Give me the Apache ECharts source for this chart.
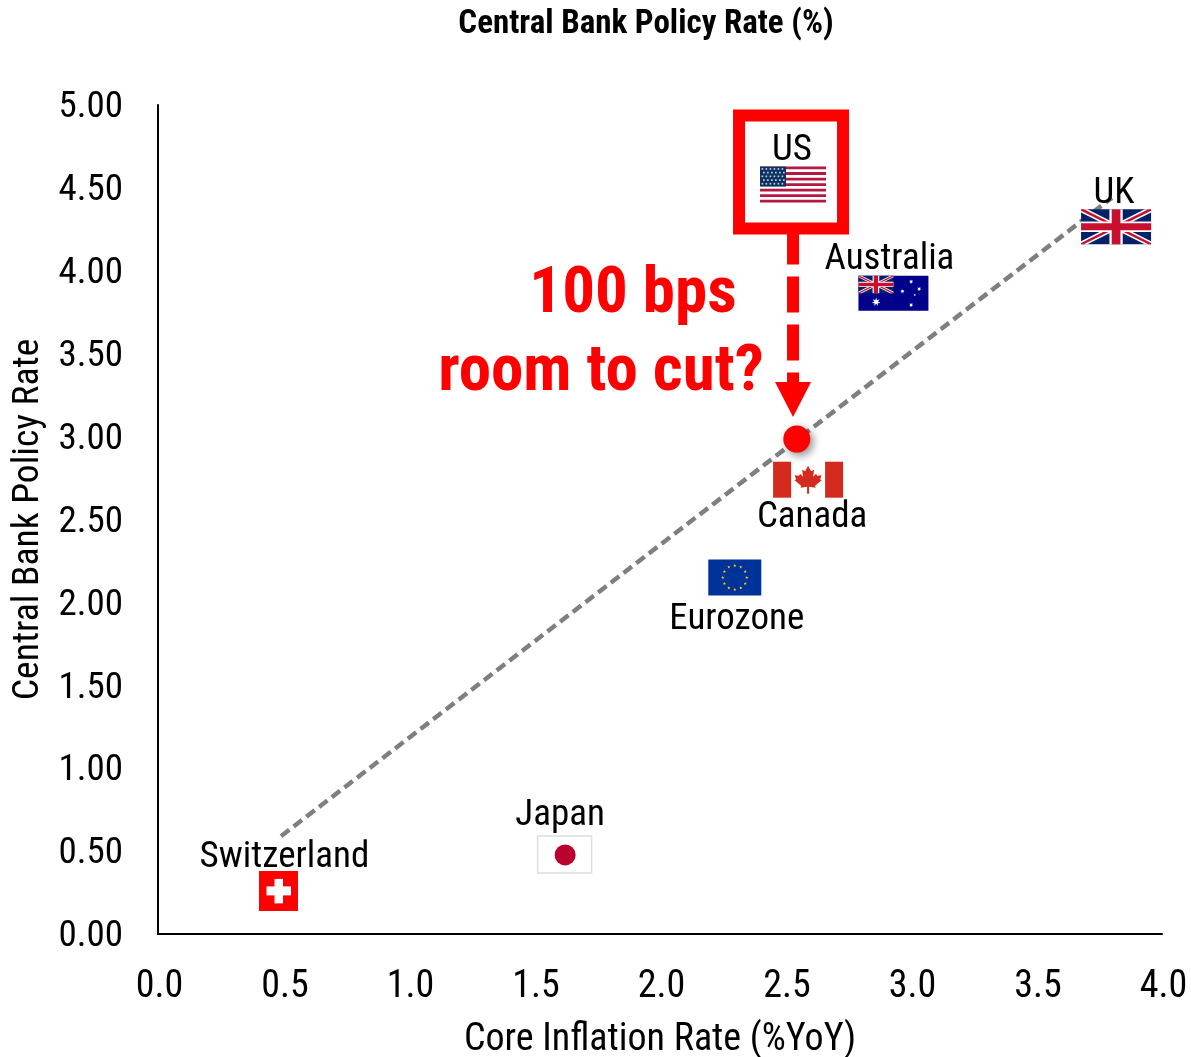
<!DOCTYPE html>
<html>
<head>
<meta charset="utf-8">
<style>
  html, body { margin: 0; padding: 0; background: #fff; }
  #chart { width: 1191px; height: 1057px; }
</style>
<script src="https://cdn.jsdelivr.net/npm/echarts@6/dist/echarts.min.js"></script>
</head>
<body>
<div id="chart"></div>
<script>
const countries = ['US', 'UK', 'Australia', 'Canada', 'Eurozone', 'Japan', 'Switzerland']
const coreInflation = [2.53, 3.817, 2.93, 2.59, 2.298, 1.62, 0.48]
const policyRate = [4.52, 4.265, 3.865, 2.74, 2.15, 0.48, 0.26]
const trendInflation = [0.49, 3.80]
const trendRate = [0.59, 4.44]
const impliedInflation = [2.545]
const impliedRate = [2.985]
const calloutLines = ['100 bps', 'room to cut?']

const FONT = '"Roboto Condensed", Roboto, sans-serif'

// label offset from the flag centre, in px
const labelOffset = {
  US: [-1, -34], UK: [-2, -33], Australia: [-4, -33], Canada: [4, 38],
  Eurozone: [2, 42], Japan: [-4.5, -39], Switzerland: [6, -33]
}

function rect(x, y, width, height, fill) {
  return { type: 'rect', shape: { x, y, width, height }, style: { fill } }
}

function poly(points, fill) {
  return { type: 'polygon', shape: { points }, style: { fill } }
}

function starPoints(cx, cy, r, n) {
  const pts = []
  for (let i = 0; i < n * 2; i++) {
    const a = -Math.PI / 2 + i * Math.PI / n
    const rr = i % 2 ? r * 0.42 : r
    pts.push([cx + rr * Math.cos(a), cy + rr * Math.sin(a)])
  }
  return pts
}

// union jack inside a w x h box whose top-left is x,y
function unionJack(x, y, w, h) {
  const blue = '#012169', red = '#C8102E'
  const band = (t, fill) => {
    const ty = t * h / w
    return [
      poly([[x, y], [x + t, y], [x + w, y + h - ty], [x + w, y + h], [x + w - t, y + h], [x, y + ty]], fill),
      poly([[x + w, y], [x + w, y + ty], [x + t, y + h], [x, y + h], [x, y + h - ty], [x + w - t, y]], fill)
    ]
  }
  const cw = w * 0.19, ch = h * 0.3, rw = w * 0.125, rh = h * 0.2
  return [
    rect(x, y, w, h, blue),
    ...band(w * 0.09, '#fff'),
    ...band(w * 0.04, red),
    rect(x + (w - cw) / 2, y, cw, h, '#fff'),
    rect(x, y + (h - ch) / 2, w, ch, '#fff'),
    rect(x + (w - rw) / 2, y, rw, h, red),
    rect(x, y + (h - rh) / 2, w, rh, red)
  ]
}

function flagUS() {
  const w = 66, h = 36, x = -33, y = -18
  const out = [rect(x, y, w, h, '#fff')]
  for (let i = 0; i < 13; i += 2) out.push(rect(x, y + i * h / 13, w, h / 13, '#B31942'))
  out.push(rect(x, y, 26, 20, '#0A3161'))
  for (let r = 0; r < 5; r++) {
    for (let c = 0; c < 6; c++) {
      out.push(rect(x + 1.5 + c * 4 + (r % 2) * 1.5, y + 1.5 + r * 3.7, 1.7, 1.7, '#BFC9DA'))
    }
  }
  return out
}

function flagAU() {
  const w = 70, h = 35, x = -35, y = -17.5
  const out = [rect(x, y, w, h, '#00008B'), ...unionJack(x, y, 35, 17.5)]
  out.push(poly(starPoints(x + 17.7, y + 26.3, 4.5, 7), '#fff'))
  const stars = [[52.7, 6], [60.7, 13.3], [44, 15.7], [52.7, 29.3]]
  stars.forEach(s => out.push(poly(starPoints(x + s[0], y + s[1], 2.3, 7), '#fff')))
  out.push(poly(starPoints(x + 56.3, y + 19.3, 1.3, 5), '#fff'))
  return out
}

function flagCA() {
  const w = 70, h = 36, x = -35, y = -18
  const half = [[0, -14], [3, -8.5], [6, -10], [5, -3], [8, -6], [9, -4], [13.5, -4.5], [12, -0.5], [13.5, 0.5], [7, 6], [7.5, 8], [1, 7], [1, 14]]
  const leaf = half.concat(half.slice().reverse().map(p => [-p[0], p[1]]))
  return [
    rect(x, y, w, h, '#fff'),
    rect(x, y, 18, h, '#D52B1E'),
    rect(x + w - 18, y, 18, h, '#D52B1E'),
    poly(leaf, '#D52B1E')
  ]
}

function flagEU() {
  const w = 53, h = 36, out = [rect(-w / 2, -h / 2, w, h, '#003399')]
  for (let i = 0; i < 12; i++) {
    const a = i * Math.PI / 6
    out.push(poly(starPoints(12 * Math.sin(a), -12 * Math.cos(a), 1.7, 5), '#FFCC00'))
  }
  return out
}

function flagJP() {
  return [
    { type: 'rect', shape: { x: -27, y: -18.5, width: 54, height: 37 }, style: { fill: '#fff', stroke: '#DDDDDD', lineWidth: 1.5 } },
    { type: 'circle', shape: { cx: 0.5, cy: 0.5, r: 10.5 }, style: { fill: '#BC002D' } }
  ]
}

function flagCH() {
  return [
    rect(-19.5, -20, 39, 40, '#FF0000'),
    rect(-12, -4.5, 24.5, 9, '#fff'),
    rect(-4, -12, 8.5, 24.5, '#fff')
  ]
}

const flagDrawers = {
  US: flagUS, UK: () => unionJack(-35, -17.5, 70, 35), Australia: flagAU,
  Canada: flagCA, Eurozone: flagEU, Japan: flagJP, Switzerland: flagCH
}

function renderFlag(params, api) {
  const name = countries[params.dataIndex]
  const p = api.coord([api.value(0), api.value(1)])
  const off = labelOffset[name]
  return {
    type: 'group', x: p[0], y: p[1],
    children: [
      ...flagDrawers[name](),
      {
        type: 'text',
        style: {
          text: name, x: off[0], y: off[1], fill: '#000', font: '37px ' + FONT,
          align: 'center', verticalAlign: 'middle'
        }
      }
    ]
  }
}

// red box around the US flag, dashed arrow down to the implied rate dot
function renderCallout(params, api) {
  const top = api.coord([coreInflation[0], policyRate[0]])
  const dot = api.coord([impliedInflation[0], impliedRate[0]])
  const tipY = dot[1] - 22, headY = tipY - 35
  return {
    type: 'group',
    children: [
      {
        type: 'line',
        shape: { x1: top[0], y1: top[1] + 44, x2: top[0], y2: headY },
        style: { stroke: '#FF0000', lineWidth: 12, lineDash: [36, 12] }
      },
      {
        type: 'polygon',
        shape: { points: [[top[0] - 18, headY], [top[0] + 18, headY], [top[0], tipY]] },
        style: { fill: '#FF0000' }
      },
      {
        type: 'rect',
        shape: { x: top[0] - 54, y: top[1] - 69, width: 104, height: 113 },
        style: { fill: 'none', stroke: '#FF0000', lineWidth: 12 }
      }
    ]
  }
}

const chart = echarts.init(document.getElementById('chart'))

chart.setOption({
  backgroundColor: '#fff',
  animation: false,
  textStyle: { fontFamily: FONT },
  title: {
    text: 'Central Bank Policy Rate (%)',
    left: 641, top: 3, textAlign: 'center',
    textStyle: { fontFamily: FONT, fontSize: 33, fontWeight: 'bold', color: '#000' }
  },
  grid: { left: 158, right: 29, top: 105, bottom: 123, outerBoundsMode: 'none' },
  xAxis: {
    type: 'value', min: 0, max: 4, interval: 0.5,
    name: 'Core Inflation Rate (%YoY)', nameLocation: 'middle', nameGap: 87,
    nameTextStyle: { color: '#000', fontSize: 38, fontFamily: FONT },
    splitLine: { show: false },
    axisTick: { show: false },
    axisLine: { lineStyle: { color: '#000', width: 2 } },
    axisLabel: { color: '#000', fontSize: 38, margin: 34, padding: [0, 0, 0, 3], formatter: v => v.toFixed(1) }
  },
  yAxis: {
    type: 'value', min: 0, max: 5, interval: 0.5,
    name: 'Central Bank Policy Rate', nameLocation: 'middle', nameGap: 95,
    nameTextStyle: { color: '#000', fontSize: 37.6, fontFamily: FONT },
    splitLine: { show: false },
    axisTick: { show: false },
    axisLine: { show: true, lineStyle: { color: '#000', width: 2 } },
    axisLabel: { color: '#000', fontSize: 37, margin: 35, verticalAlign: 'top', lineHeight: 6, formatter: v => v.toFixed(2) }
  },
  series: [
    {
      type: 'line', z: 2, symbol: 'none', silent: true,
      data: trendInflation.map((x, i) => [x, trendRate[i]]),
      lineStyle: { color: '#7F7F7F', width: 4.5, type: [10.5, 5.5] }
    },
    {
      type: 'custom', z: 3, clip: false, silent: true,
      data: coreInflation.map((x, i) => [x, policyRate[i]]),
      renderItem: renderFlag
    },
    {
      type: 'custom', z: 4, clip: false, silent: true,
      data: [[coreInflation[0], policyRate[0]]],
      renderItem: renderCallout
    },
    {
      type: 'scatter', z: 5, symbol: 'circle', symbolSize: 27, silent: true,
      data: impliedInflation.map((x, i) => [x, impliedRate[i]]),
      itemStyle: { color: '#FF0000', opacity: 1, shadowBlur: 8, shadowOffsetX: 3, shadowOffsetY: 3, shadowColor: 'rgba(0,0,0,0.45)' }
    }
  ],
  graphic: [
    {
      type: 'text', x: 633, y: 296, z: 10,
      style: { text: calloutLines[0], fill: '#FF0000', font: 'bold 65px ' + FONT, align: 'center', verticalAlign: 'middle' }
    },
    {
      type: 'text', x: 601, y: 374, z: 10,
      style: { text: calloutLines[1], fill: '#FF0000', font: 'bold 65px ' + FONT, align: 'center', verticalAlign: 'middle' }
    }
  ]
})

window.addEventListener('resize', () => chart.resize())
</script>
</body>
</html>
